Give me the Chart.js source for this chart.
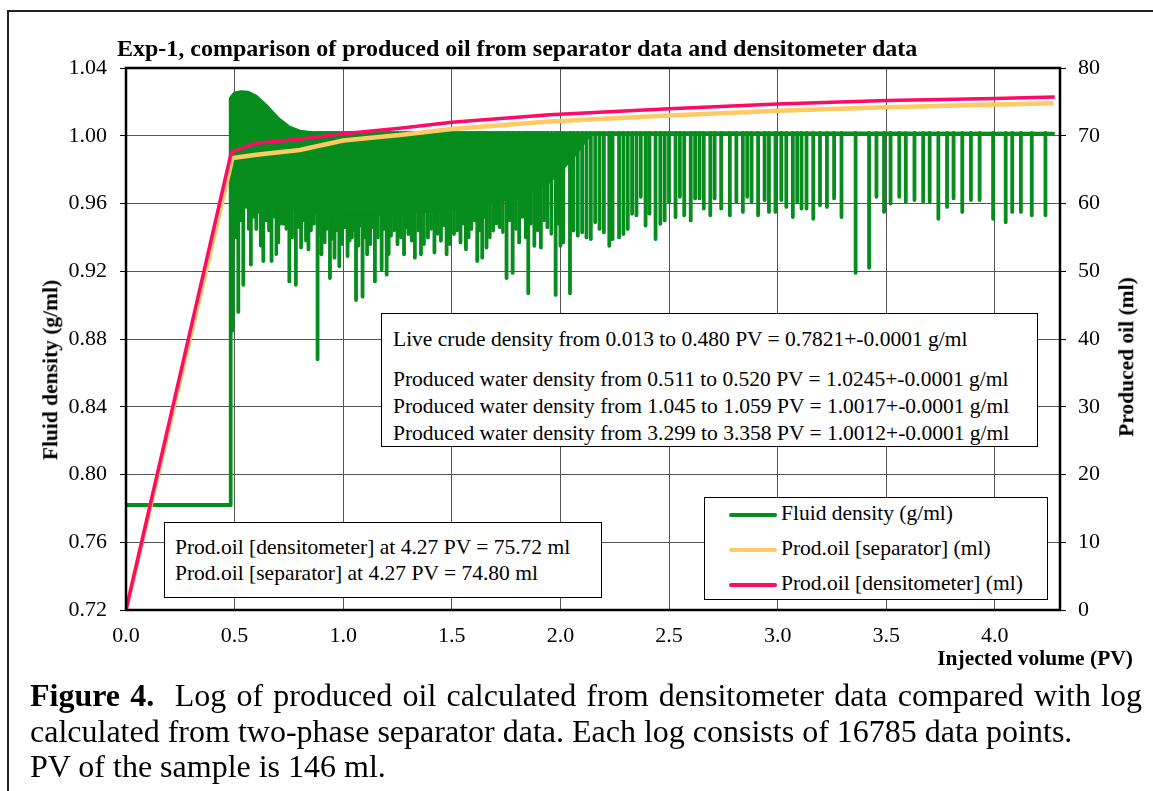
<!DOCTYPE html>
<html>
<head>
<meta charset="utf-8">
<script src="https://cdn.jsdelivr.net/npm/chart.js@4/dist/chart.umd.min.js"></script>
<style>
  body { margin: 0; background: #fff; }
  #wrap { position: relative; width: 1153px; height: 791px; overflow: hidden; font-family: "Liberation Serif", "Times New Roman", serif; color: #000; }
  #frame { position: absolute; left: 7px; top: 10px; width: 1170px; height: 800px; border: 2px solid #222; }
  #c { position: absolute; left: 0; top: 0; }
  .t { position: absolute; white-space: nowrap; line-height: 1; }
  .box { position: absolute; background: #fff; border: 1.5px solid #000; box-sizing: border-box; }
  .swatch { position: absolute; border-radius: 2px; }
  #caption { position: absolute; left: 30px; top: 678px; font-size: 32px; line-height: 35.5px; }
  #caption div { white-space: nowrap; }
  #caption .l1 { width: 1112px; text-align: justify; text-align-last: justify; }
</style>
</head>
<body>
<div id="wrap">
  <div id="frame"></div>
  <canvas id="c" width="1153" height="680"></canvas>
  <div id="caption">
    <div class="l1"><b>Figure 4.</b>&nbsp; Log of produced oil calculated from densitometer data compared with log</div>
    <div>calculated from two-phase separator data. Each log consists of 16785 data points.</div>
    <div>PV of the sample is 146 ml.</div>
  </div>
</div>
<script>
// fluid density (left axis), main trace: baseline, jump, hump, plateau
const densityX = [0, 0.482, 0.482, 0.50, 0.53, 0.56, 0.60, 0.65, 0.70, 0.75, 0.80, 0.85, 2.5, 4.276];
const densityY = [0.782, 0.782, 1.022, 1.025, 1.0258, 1.0255, 1.023, 1.017, 1.010, 1.005, 1.0025, 1.0017, 1.0016, 1.0013];

// lower edge of the solid (very dense) part of the density log
const denseLowX = [0.484, 0.52, 0.58, 0.64, 0.70, 0.75, 0.80, 0.90, 1.00, 1.20, 1.40, 1.60, 1.80, 1.95, 2.05, 2.15];
const denseLowY = [0.968, 0.967, 0.966, 0.964, 0.962, 0.958, 0.955, 0.954, 0.953, 0.953, 0.955, 0.958, 0.963, 0.972, 0.985, 1.0017];

// downward spikes of the density log (position, lowest value)
const spikeTop = 1.0017;
const spikeX = [0.491, 0.517, 0.540, 0.575, 0.600, 0.632, 0.670, 0.701, 0.725, 0.752, 0.782, 0.806, 0.840, 0.882, 0.900, 0.939, 0.960, 0.982, 1.020, 1.040, 1.059, 1.089, 1.110, 1.146, 1.177, 1.200, 1.220, 1.250, 1.280, 1.300, 1.330,
  1.358, 1.390, 1.420, 1.450, 1.476, 1.510, 1.540, 1.565, 1.590, 1.617, 1.640, 1.660, 1.690, 1.720, 1.752, 1.780, 1.810, 1.852, 1.880, 1.910, 1.940, 1.978, 2.000, 2.013, 2.044,
  2.06, 2.08, 2.10, 2.12, 2.14, 2.16, 2.18, 2.20, 2.225, 2.24, 2.27, 2.29, 2.31, 2.33, 2.35, 2.37, 2.392, 2.41, 2.438, 2.46, 2.48, 2.50, 2.53, 2.55, 2.57, 2.60, 2.62, 2.64, 2.66, 2.69, 2.71, 2.74, 2.78, 2.81, 2.84, 2.86, 2.88, 2.91, 2.94, 2.96, 2.99,
  3.017, 3.04, 3.07, 3.09, 3.11, 3.133, 3.164, 3.195, 3.227, 3.26, 3.294, 3.359, 3.421, 3.455, 3.49, 3.52, 3.56, 3.59, 3.63, 3.67, 3.70, 3.74, 3.78, 3.81, 3.85, 3.89, 3.93, 3.992, 4.05, 4.08, 4.12, 4.17, 4.233];
const spikeY = [0.885, 0.896, 0.912, 0.924, 0.945, 0.926, 0.926, 0.937, 0.948, 0.914, 0.912, 0.934, 0.933, 0.868, 0.930, 0.916, 0.928, 0.923, 0.929, 0.940, 0.903, 0.905, 0.930, 0.914, 0.921, 0.918, 0.941, 0.936, 0.930, 0.942, 0.928,
  0.930, 0.940, 0.931, 0.938, 0.930, 0.942, 0.937, 0.933, 0.945, 0.926, 0.928, 0.934, 0.944, 0.946, 0.916, 0.919, 0.937, 0.907, 0.935, 0.934, 0.946, 0.906, 0.935, 0.937, 0.907,
  0.944, 0.941, 0.943, 0.940, 0.939, 0.949, 0.945, 0.943, 0.935, 0.939, 0.940, 0.942, 0.945, 0.954, 0.953, 0.964, 0.947, 0.954, 0.939, 0.948, 0.950, 0.961, 0.952, 0.964, 0.953, 0.950, 0.963, 0.963, 0.957, 0.953, 0.963, 0.957, 0.953, 0.961, 0.955, 0.964, 0.961, 0.953, 0.962, 0.955, 0.955,
  0.962, 0.958, 0.952, 0.961, 0.957, 0.957, 0.951, 0.959, 0.958, 0.963, 0.952, 0.919, 0.922, 0.964, 0.955, 0.960, 0.964, 0.961, 0.962, 0.961, 0.961, 0.951, 0.958, 0.963, 0.955, 0.962, 0.962, 0.951, 0.949, 0.955, 0.955, 0.953, 0.953];

// shorter spikes packed inside the dense part (ragged lower edge)
const denseSpikeX = [0.505, 0.528, 0.553, 0.565, 0.588, 0.612, 0.620, 0.645, 0.658, 0.685, 0.692, 0.712, 0.738, 0.765, 0.795, 0.818, 0.828, 0.852, 0.866, 0.892, 0.915, 0.925, 0.948, 0.970, 0.995,
  1.008, 1.030, 1.050, 1.070, 1.080, 1.100, 1.125, 1.135, 1.160, 1.188, 1.210, 1.235, 1.265, 1.290, 1.315, 1.345, 1.372, 1.405, 1.435, 1.462, 1.490, 1.525, 1.553, 1.578, 1.605, 1.628, 1.650, 1.675,
  1.705, 1.735, 1.765, 1.795, 1.825, 1.840, 1.865, 1.895, 1.925, 1.958, 1.990];
const denseSpikeY = [0.940, 0.950, 0.958, 0.945, 0.952, 0.955, 0.935, 0.950, 0.944, 0.952, 0.930, 0.948, 0.945, 0.940, 0.946, 0.950, 0.938, 0.944, 0.948, 0.942, 0.937, 0.945, 0.939, 0.944, 0.936,
  0.946, 0.938, 0.944, 0.935, 0.947, 0.940, 0.936, 0.946, 0.940, 0.945, 0.930, 0.944, 0.940, 0.946, 0.938, 0.944, 0.936, 0.945, 0.942, 0.947, 0.936, 0.944, 0.948, 0.940, 0.950, 0.944, 0.952, 0.940,
  0.948, 0.943, 0.950, 0.945, 0.952, 0.940, 0.948, 0.944, 0.950, 0.942, 0.948];

// produced oil (right axis)
const densOilX = [0, 0.485, 0.60, 0.80, 1.00, 1.26, 1.50, 1.95, 2.50, 3.00, 3.50, 4.00, 4.276];
const densOilY = [0, 67.6, 68.9, 69.5, 70.3, 71.1, 72.0, 73.1, 74.0, 74.7, 75.2, 75.5, 75.72];
const sepOilX = [0, 0.49, 0.60, 0.80, 1.00, 1.26, 1.50, 1.95, 2.50, 3.00, 3.50, 4.00, 4.27];
const sepOilY = [0, 66.7, 67.2, 67.9, 69.3, 70.1, 71.0, 72.1, 73.0, 73.7, 74.2, 74.6, 74.8];

const leftTicks = [0.72, 0.76, 0.80, 0.84, 0.88, 0.92, 0.96, 1.00, 1.04];

const green = '#078c1e', pink = '#ff0a66', yellow = '#ffc964';

function pts(xs, ys) { return xs.map((x, i) => ({ x: x, y: ys[i] })); }
function spikes(xs, ys) {
  const out = [];
  xs.forEach((x, i) => { out.push({ x: x, y: spikeTop }, { x: x, y: ys[i] }, { x: x, y: null }); });
  return out;
}

Chart.defaults.font.family = '"Liberation Serif", "Times New Roman", serif';
Chart.defaults.font.size = 22;
Chart.defaults.color = '#000';

const frame = {
  id: 'frame',
  afterDraw(chart) {
    const a = chart.chartArea, ctx = chart.ctx;
    ctx.save();
    ctx.strokeStyle = '#000';
    ctx.lineWidth = 2.5;
    ctx.strokeRect(a.left, a.top, a.right - a.left, a.bottom - a.top);
    ctx.restore();
  }
};

new Chart(document.getElementById('c'), {
  type: 'line',
  data: {
    datasets: [
      { data: pts(densOilX, densOilY), yAxisID: 'y1', borderColor: pink, borderWidth: 3.5, pointRadius: 0 },
      { data: pts(sepOilX, sepOilY), yAxisID: 'y1', borderColor: yellow, borderWidth: 4.5, pointRadius: 0 },
      { data: pts(densityX, densityY), yAxisID: 'y', borderColor: green, borderWidth: 3.8, pointRadius: 0, borderJoinStyle: 'round' },
      { data: pts(denseLowX, denseLowY), yAxisID: 'y', borderColor: green, backgroundColor: green, borderWidth: 1, pointRadius: 0, fill: '-1' },
      { data: spikes(spikeX, spikeY), yAxisID: 'y', borderColor: green, borderWidth: 3.8, pointRadius: 0, spanGaps: false, borderCapStyle: 'round' },
      { data: spikes(denseSpikeX, denseSpikeY), yAxisID: 'y', borderColor: green, borderWidth: 3.5, pointRadius: 0, spanGaps: false, borderCapStyle: 'round' }
    ]
  },
  options: {
    responsive: false,
    animation: false,
    devicePixelRatio: 1,
    layout: { padding: { top: 68, left: 0, right: 0, bottom: 0 } },
    plugins: { legend: { display: false }, tooltip: { enabled: false } },
    scales: {
      x: {
        type: 'linear', min: 0, max: 4.3,
        ticks: { stepSize: 0.5, padding: 13, callback: v => v.toFixed(1) },
        afterBuildTicks: s => { s.ticks = s.ticks.filter(t => Math.abs(t.value * 2 - Math.round(t.value * 2)) < 1e-9); },
        afterFit: s => { s.height = 70; },
        grid: { color: '#555', lineWidth: 1, drawTicks: false },
        border: { display: false }
      },
      y: {
        position: 'left', min: 0.72, max: 1.04,
        afterBuildTicks: s => { s.ticks = leftTicks.map(v => ({ value: v })); },
        ticks: { padding: 13, callback: v => v.toFixed(2) },
        afterFit: s => { s.width = 126; },
        grid: { color: '#555', lineWidth: 1, tickLength: 6, tickColor: '#000' },
        border: { display: false }
      },
      y1: {
        position: 'right', min: 0, max: 80,
        ticks: { stepSize: 10, padding: 12 },
        afterFit: s => { s.width = 93; },
        grid: { drawOnChartArea: false, tickLength: 6, tickColor: '#000' },
        border: { display: false }
      }
    }
  },
  plugins: [frame]
});

// text overlays
const wrap = document.getElementById('wrap');
function label(txt, x, cy, size, opt) {
  opt = opt || {};
  const d = document.createElement('div');
  d.className = 't';
  d.textContent = txt;
  d.style.fontSize = size + 'px';
  if (opt.bold) d.style.fontWeight = 'bold';
  d.style.top = (cy - 0.54 * size) + 'px';
  if (opt.right) { d.style.right = (1153 - x) + 'px'; } else { d.style.left = x + 'px'; }
  if (opt.rot) {
    d.style.left = x + 'px';
    d.style.top = cy + 'px';
    d.style.transform = 'translate(-50%, -50%) rotate(-90deg)';
  }
  wrap.appendChild(d);
  return d;
}
function box(x1, y1, x2, y2) {
  const b = document.createElement('div');
  b.className = 'box';
  b.style.left = x1 + 'px'; b.style.top = y1 + 'px';
  b.style.width = (x2 - x1) + 'px'; b.style.height = (y2 - y1) + 'px';
  wrap.appendChild(b);
}

label('Exp-1, comparison of produced oil from separator data and densitometer data', 117, 49, 24, { bold: true });
label('Fluid density (g/ml)', 51, 370, 21.5, { bold: true, rot: true });
label('Produced oil (ml)', 1127, 357, 21.5, { bold: true, rot: true });
label('Injected volume (PV)', 1133, 660, 21.5, { bold: true, right: true });

box(381, 313, 1038, 447);
label('Live crude density from 0.013 to 0.480 PV = 0.7821+-0.0001 g/ml', 393, 341, 21.5);
label('Produced water density from 0.511 to 0.520 PV = 1.0245+-0.0001 g/ml', 393, 381, 21.5);
label('Produced water density from 1.045 to 1.059 PV = 1.0017+-0.0001 g/ml', 393, 408, 21.5);
label('Produced water density from 3.299 to 3.358 PV = 1.0012+-0.0001 g/ml', 393, 435, 21.5);

box(164, 522, 602, 598);
label('Prod.oil [densitometer] at 4.27 PV = 75.72 ml', 175, 549, 21.5);
label('Prod.oil [separator] at 4.27 PV = 74.80 ml', 175, 575, 21.5);

box(704, 497, 1048, 600);
const legendRows = [['Fluid density (g/ml)', green, 3.5, 515], ['Prod.oil [separator] (ml)', yellow, 4.5, 550], ['Prod.oil [densitometer] (ml)', pink, 3.5, 585]];
legendRows.forEach(r => {
  const s = document.createElement('div');
  s.className = 'swatch';
  s.style.left = '729px'; s.style.width = '48px';
  s.style.height = r[2] + 'px'; s.style.top = (r[3] - r[2] / 2) + 'px';
  s.style.background = r[1];
  wrap.appendChild(s);
  label(r[0], 781, r[3], 21.5);
});
</script>
</body>
</html>
